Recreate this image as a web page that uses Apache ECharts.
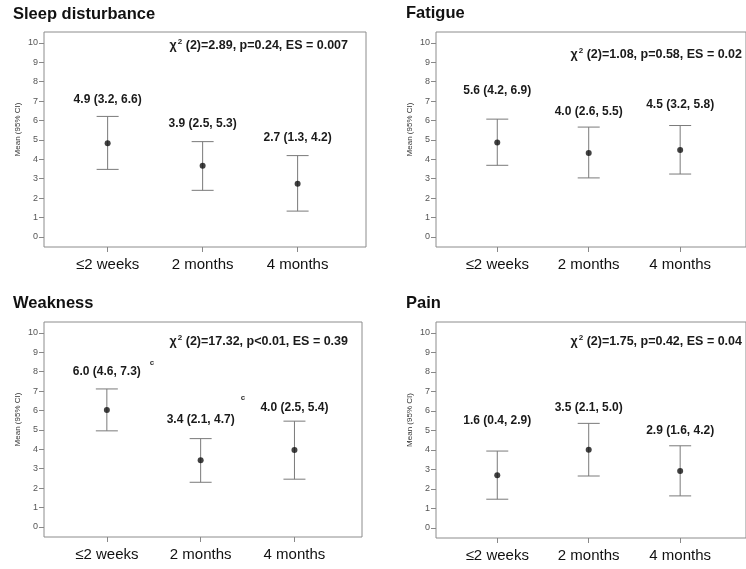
<!DOCTYPE html>
<html><head><meta charset="utf-8">
<script src="https://cdn.jsdelivr.net/npm/echarts@6/dist/echarts.min.js"></script>
<style>html,body{margin:0;padding:0;background:#fff}#c{width:746px;height:569px}</style>
</head><body><div id="c"></div>
<script>
// ---- data ----
const categories = ['≤2 weeks', '2 months', '4 months'];
const yTicks = [0, 1, 2, 3, 4, 5, 6, 7, 8, 9, 10];
const panelTitles = ['Sleep disturbance', 'Fatigue', 'Weakness', 'Pain'];

const sleepMean = [4.83, 3.67, 2.74];
const sleepLow  = [3.48, 2.40, 1.33];
const sleepHigh = [6.21, 4.91, 4.19];
const sleepLabels = ['4.9 (3.2, 6.6)', '3.9 (2.5, 5.3)', '2.7 (1.3, 4.2)'];
const sleepStat = ' (2)=2.89, p=0.24, ES = 0.007';

const fatigueMean = [4.86, 4.33, 4.48];
const fatigueLow  = [3.69, 3.04, 3.24];
const fatigueHigh = [6.07, 5.66, 5.74];
const fatigueLabels = ['5.6 (4.2, 6.9)', '4.0 (2.6, 5.5)', '4.5 (3.2, 5.8)'];
const fatigueStat = ' (2)=1.08, p=0.58, ES = 0.02';

const weaknessMean = [6.02, 3.43, 3.96];
const weaknessLow  = [4.95, 2.30, 2.46];
const weaknessHigh = [7.11, 4.55, 5.45];
const weaknessLabels = ['6.0 (4.6, 7.3)', '3.4 (2.1, 4.7)', '4.0 (2.5, 5.4)'];
const weaknessStat = ' (2)=17.32, p<0.01, ES = 0.39';

const painMean = [2.70, 4.01, 2.92];
const painLow  = [1.47, 2.66, 1.64];
const painHigh = [3.94, 5.36, 4.21];
const painLabels = ['1.6 (0.4, 2.9)', '3.5 (2.1, 5.0)', '2.9 (1.6, 4.2)'];
const painStat = ' (2)=1.75, p=0.42, ES = 0.04';

// ---- layout ----
const FONT = '"Liberation Sans", Arial, sans-serif';
const panels = [
  {title: panelTitles[0], mean: sleepMean, low: sleepLow, high: sleepHigh, labels: sleepLabels, stat: sleepStat,
   grid: {left: 44, top: 32, width: 322, height: 215}, titlePos: [13, 16], statPos: [348, 45], lift: [17, 18, 18]},
  {title: panelTitles[1], mean: fatigueMean, low: fatigueLow, high: fatigueHigh, labels: fatigueLabels, stat: fatigueStat,
   grid: {left: 436, top: 32, width: 322, height: 215}, titlePos: [406, 15], statPos: [742, 54], lift: [28, 15, 21]},
  {title: panelTitles[2], mean: weaknessMean, low: weaknessLow, high: weaknessHigh, labels: weaknessLabels, stat: weaknessStat,
   grid: {left: 44, top: 322, width: 318, height: 215}, titlePos: [13, 305], statPos: [348, 341], lift: [17, 19, 13]},
  {title: panelTitles[3], mean: painMean, low: painLow, high: painHigh, labels: painLabels, stat: painStat,
   grid: {left: 436, top: 322, width: 322, height: 216}, titlePos: [406, 305], statPos: [742, 341], lift: [30, 16, 15]}
];

const grid = [], xAxis = [], yAxis = [], series = [], graphic = [];
panels.forEach((p, i) => {
  grid.push(Object.assign({show: true, borderColor: '#8c8c8c', borderWidth: 1, backgroundColor: 'transparent'}, p.grid));
  xAxis.push({
    type: 'value', gridIndex: i, min: -0.67, max: 2.72, position: 'bottom',
    splitLine: {show: false}, axisLine: {show: false, onZero: false},
    axisTick: {show: true, customValues: [0, 1, 2], length: 5, lineStyle: {color: '#888'}},
    axisLabel: {show: true, customValues: [0, 1, 2], margin: 10, fontSize: 15, color: '#111', fontFamily: FONT,
      formatter: v => categories[Math.round(v)]}
  });
  yAxis.push({
    type: 'value', gridIndex: i, min: -0.52, max: 10.56, position: 'left',
    splitLine: {show: false}, axisLine: {show: false, onZero: false},
    axisTick: {show: true, customValues: yTicks, length: 5, lineStyle: {color: '#888'}},
    axisLabel: {show: true, customValues: yTicks, margin: 6, fontSize: 9, color: '#555', fontFamily: FONT},
    name: 'Mean (95% CI)', nameLocation: 'middle', nameGap: 22,
    nameTextStyle: {fontSize: 8, color: '#333', fontFamily: FONT, padding: [0, 0, 0, 20]}
  });
  const ebData = p.mean.map((m, k) => [k, p.low[k], p.high[k]]);
  series.push({
    type: 'custom', xAxisIndex: i, yAxisIndex: i, data: ebData, z: 2,
    renderItem: (params, api) => {
      const x = api.value(0), lo = api.value(1), hi = api.value(2);
      const a = api.coord([x, lo]), b = api.coord([x, hi]);
      const hw = 11, st = {stroke: '#7a7a7a', lineWidth: 1};
      const k = params.dataIndex;
      return {type: 'group', children: [
        {type: 'line', shape: {x1: a[0], y1: a[1], x2: b[0], y2: b[1]}, style: st},
        {type: 'line', shape: {x1: a[0] - hw, y1: a[1], x2: a[0] + hw, y2: a[1]}, style: st},
        {type: 'line', shape: {x1: b[0] - hw, y1: b[1], x2: b[0] + hw, y2: b[1]}, style: st},
        {type: 'text', x: b[0], y: b[1] - p.lift[k],
          style: {text: p.labels[k], align: 'center', verticalAlign: 'middle', fill: '#1a1a1a',
            font: 'bold 12px ' + FONT}}
      ]};
    }
  });
  series.push({
    type: 'scatter', xAxisIndex: i, yAxisIndex: i, z: 3,
    data: p.mean.map((m, k) => [k, m]),
    symbol: 'circle', symbolSize: 6, itemStyle: {color: '#111'}
  });
  graphic.push({type: 'text', left: p.titlePos[0], top: p.titlePos[1] - 10,
    style: {text: p.title, fill: '#111', font: 'bold 16.5px ' + FONT}});
  graphic.push({type: 'text', x: p.statPos[0], y: p.statPos[1],
    style: {text: '{a|χ}{s|2}{a|' + p.stat + '}', align: 'right', verticalAlign: 'middle',
      rich: {
        a: {font: 'bold 12.5px ' + FONT, fill: '#1a1a1a', verticalAlign: 'bottom'},
        s: {font: 'bold 8px ' + FONT, fill: '#1a1a1a', verticalAlign: 'top', padding: [0, 0, 6, 1]}
      }}});
});
// superscript markers in the Weakness panel
graphic.push({type: 'text', x: 152, y: 363, style: {text: 'c', font: 'bold 8px ' + FONT, fill: '#333', align: 'center', verticalAlign: 'middle'}});
graphic.push({type: 'text', x: 243, y: 398, style: {text: 'c', font: 'bold 8px ' + FONT, fill: '#333', align: 'center', verticalAlign: 'middle'}});

const chart = echarts.init(document.getElementById('c'), null, {renderer: 'canvas'});
chart.setOption({animation: false, backgroundColor: '#fff', grid, xAxis, yAxis, series, graphic});
</script></body></html>
